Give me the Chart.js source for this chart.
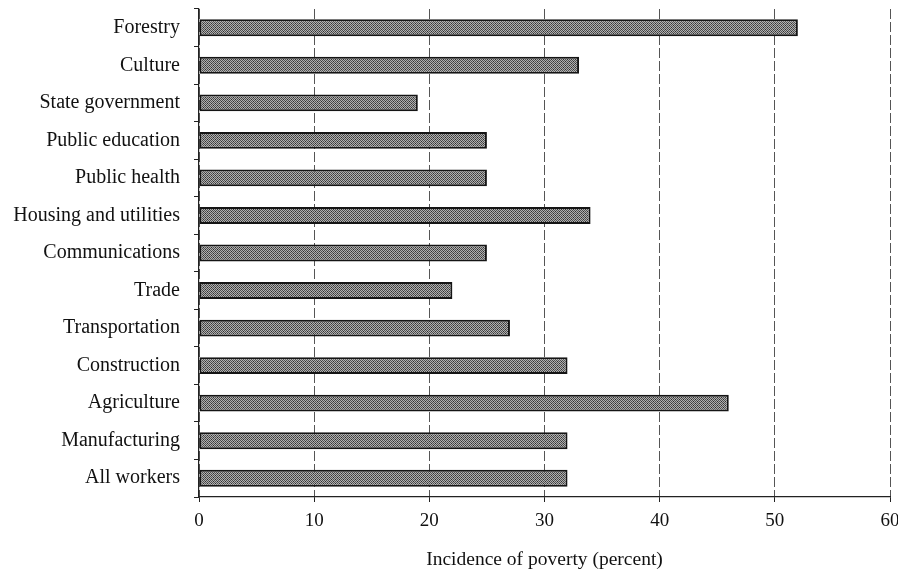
<!DOCTYPE html>
<html>
<head>
<meta charset="utf-8">
<script src="https://cdn.jsdelivr.net/npm/chart.js@4"></script>
<style>
  html, body { margin: 0; padding: 0; background: #fff; }
  #wrap { width: 898px; height: 577px; }
</style>
</head>
<body>
<div id="wrap"><canvas id="povChart" width="898" height="577"></canvas></div>
<script>
const sectors = ['Forestry', 'Culture', 'State government', 'Public education', 'Public health',
    'Housing and utilities', 'Communications', 'Trade', 'Transportation', 'Construction',
    'Agriculture', 'Manufacturing', 'All workers'];
const poverty = [52, 33, 19, 25, 25, 34, 25, 22, 27, 32, 46, 32, 32];
const xTicks = [0, 10, 20, 30, 40, 50, 60];

// stippled grey fill like the printed bars
function stipple() {
    const c = document.createElement('canvas');
    c.width = 4; c.height = 4;
    const g = c.getContext('2d');
    g.fillStyle = '#b0b0b0';
    g.fillRect(0, 0, 4, 4);
    g.fillStyle = '#505050';
    [[0, 0], [2, 0], [3, 1], [1, 1], [0, 2], [2, 2], [1, 3], [3, 3]].forEach(p => g.fillRect(p[0], p[1], 1, 1));
    g.fillStyle = '#2e2e2e';
    g.fillRect(1, 1, 1, 1); g.fillRect(3, 3, 1, 1);
    return g.createPattern(c, 'repeat');
}

const serif = '"Liberation Serif", "DejaVu Serif", serif';

new Chart(document.getElementById('povChart'), {
    type: 'bar',
    data: {
        labels: sectors,
        datasets: [{
            data: poverty,
            backgroundColor: stipple(),
            borderColor: '#151515',
            borderWidth: 2,
            borderSkipped: false,
            barPercentage: 0.45,
            categoryPercentage: 1
        }]
    },
    options: {
        indexAxis: 'y',
        responsive: false,
        animation: false,
        devicePixelRatio: 1,
        layout: { padding: { top: 9, right: 8, left: 0, bottom: 0 } },
        plugins: { legend: { display: false }, tooltip: { enabled: false } },
        scales: {
            x: {
                min: 0, max: 60,
                afterBuildTicks: s => { s.ticks = xTicks.map(v => ({ value: v })); },
                afterFit: s => { s.height = 80; s.paddingLeft = 0; s.paddingRight = 0; },
                border: { display: true, color: '#222', width: 1.2, dash: [10, 3] },
                grid: {
                    color: '#555', lineWidth: 1,
                    tickLength: 5, tickColor: '#222', tickBorderDash: []
                },
                ticks: { color: '#111', font: { family: serif, size: 19 }, padding: 8 },
                title: {
                    display: true, text: 'Incidence of poverty (percent)',
                    color: '#111', font: { family: serif, size: 19.5 },
                    padding: { top: 0, bottom: 5 }
                }
            },
            y: {
                afterFit: s => { s.width = 199; s.paddingTop = 0; s.paddingBottom = 0; },
                border: { display: true, color: '#222', width: 1.2 },
                grid: {
                    offset: true, drawOnChartArea: false,
                    tickLength: 5, tickColor: '#222'
                },
                ticks: { color: '#111', font: { family: serif, size: 20 }, padding: 14 }
            }
        }
    }
});
</script>
</body>
</html>
